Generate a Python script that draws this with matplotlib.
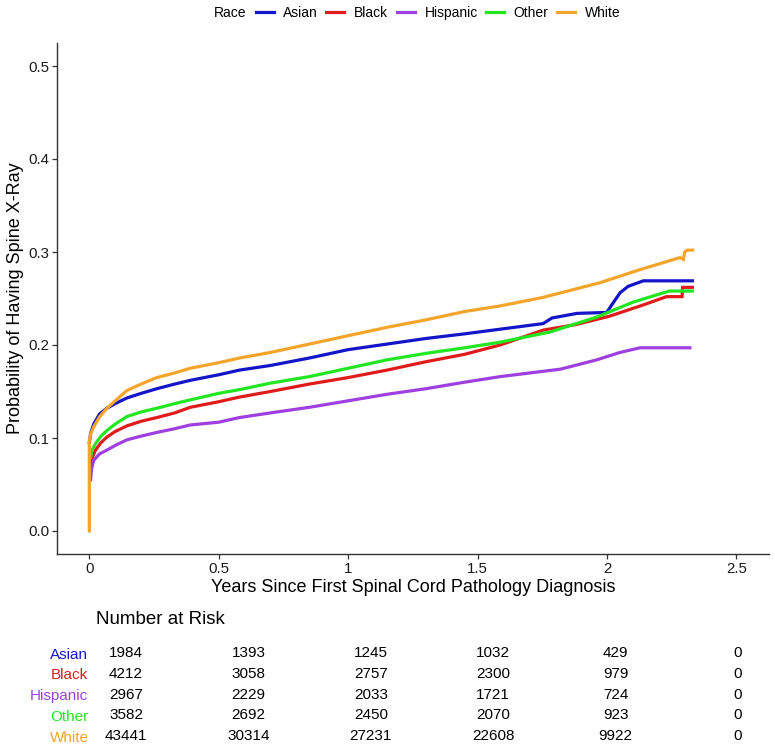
import matplotlib
matplotlib.use("Agg")
import matplotlib.pyplot as plt
from matplotlib.lines import Line2D

plt.rcParams.update({
    "font.family": ["Liberation Sans", "DejaVu Sans"],
    "axes.linewidth": 1.0,
    "xtick.direction": "out",
    "ytick.direction": "out",
    "xtick.major.size": 3.5,
    "ytick.major.size": 3.5,
    "xtick.major.width": 0.9,
    "ytick.major.width": 0.9,
    "xtick.labelsize": 10.8,
    "ytick.labelsize": 10.8,
})

groups = ["Asian", "Black", "Hispanic", "Other", "White"]
colors = ["#1414C8", "#E01B1B", "#A03FE0", "#22E622", "#F2A52A"]

# cumulative incidence (time in years, probability)
asian_t = [0, 0.005, 0.017, 0.04, 0.068, 0.1, 0.145, 0.2, 0.261, 0.33, 0.39, 0.5, 0.58, 0.7,
           0.85, 1.0, 1.15, 1.3, 1.45, 1.587, 1.753, 1.787, 1.884, 1.999, 2.018, 2.05, 2.081,
           2.14, 2.33]
asian_p = [0.095, 0.105, 0.115, 0.126, 0.132, 0.137, 0.143, 0.148, 0.153, 0.158, 0.162, 0.168,
           0.173, 0.178, 0.186, 0.195, 0.201, 0.207, 0.212, 0.217, 0.223, 0.229, 0.234, 0.235,
           0.243, 0.256, 0.263, 0.269, 0.269]

black_t = [0.005, 0.01, 0.024, 0.045, 0.068, 0.1, 0.145, 0.2, 0.261, 0.33, 0.39, 0.5, 0.58, 0.7,
           0.85, 1.0, 1.15, 1.3, 1.45, 1.587, 1.753, 1.88, 2.01, 2.139, 2.23, 2.29, 2.292, 2.33]
black_p = [0.065, 0.078, 0.087, 0.095, 0.101, 0.107, 0.113, 0.118, 0.122, 0.127, 0.133, 0.139,
           0.144, 0.150, 0.158, 0.165, 0.173, 0.182, 0.190, 0.200, 0.216, 0.222, 0.231, 0.243,
           0.252, 0.252, 0.262, 0.262]

hispanic_t = [0.005, 0.008, 0.017, 0.04, 0.068, 0.1, 0.145, 0.2, 0.261, 0.33, 0.39, 0.5, 0.58,
              0.7, 0.85, 1.0, 1.15, 1.3, 1.45, 1.587, 1.82, 1.96, 2.05, 2.127, 2.32]
hispanic_p = [0.055, 0.066, 0.076, 0.083, 0.087, 0.092, 0.098, 0.102, 0.106, 0.110, 0.114, 0.117,
              0.122, 0.127, 0.133, 0.140, 0.147, 0.153, 0.160, 0.166, 0.174, 0.184, 0.192, 0.197,
              0.197]

other_t = [0.005, 0.01, 0.024, 0.045, 0.068, 0.1, 0.145, 0.2, 0.261, 0.33, 0.39, 0.5, 0.58, 0.7,
           0.85, 1.0, 1.15, 1.3, 1.45, 1.587, 1.78, 1.96, 2.10, 2.24, 2.33]
other_p = [0.079, 0.087, 0.094, 0.102, 0.108, 0.115, 0.123, 0.128, 0.132, 0.137, 0.141, 0.148,
           0.152, 0.159, 0.166, 0.175, 0.184, 0.191, 0.197, 0.203, 0.214, 0.230, 0.246, 0.258,
           0.258]

white_t = [0, 0, 0.005, 0.017, 0.04, 0.068, 0.1, 0.145, 0.2, 0.261, 0.33, 0.39, 0.5, 0.58, 0.7,
           0.85, 1.0, 1.15, 1.3, 1.45, 1.587, 1.75, 1.973, 2.127, 2.282, 2.295, 2.30, 2.31, 2.33]
white_p = [0, 0.098, 0.104, 0.112, 0.123, 0.132, 0.140, 0.151, 0.158, 0.165, 0.170, 0.175, 0.181,
           0.186, 0.192, 0.201, 0.210, 0.219, 0.227, 0.236, 0.242, 0.251, 0.267, 0.281, 0.294,
           0.292, 0.300, 0.302, 0.302]

series_t = [asian_t, black_t, hispanic_t, other_t, white_t]
series_p = [asian_p, black_p, hispanic_p, other_p, white_p]

# number at risk table
risk_times = [0, 0.5, 1.0, 1.5, 2.0, 2.5]
risk_asian = [1984, 1393, 1245, 1032, 429, 0]
risk_black = [4212, 3058, 2757, 2300, 979, 0]
risk_hispanic = [2967, 2229, 2033, 1721, 724, 0]
risk_other = [3582, 2692, 2450, 2070, 923, 0]
risk_white = [43441, 30314, 27231, 22608, 9922, 0]
risk_rows = [risk_asian, risk_black, risk_hispanic, risk_other, risk_white]

xticks = [0, 0.5, 1, 1.5, 2, 2.5]
xtick_labels = ["0", "0.5", "1", "1.5", "2", "2.5"]
yticks = [0.0, 0.1, 0.2, 0.3, 0.4, 0.5]

fig = plt.figure(figsize=(7.75, 7.5), dpi=100)

# main curves
ax = fig.add_axes([0.0735, 0.261, 0.9185, 0.682])
for t, p, c in zip(series_t, series_p, colors):
    ax.plot(t, p, color=c, linewidth=2.3, solid_joinstyle="miter")
ax.set_xlim(-0.125, 2.625)
ax.set_ylim(-0.025, 0.525)
ax.set_xticks(xticks, xtick_labels)
ax.set_yticks(yticks, [f"{v:.1f}" for v in yticks])
ax.tick_params(colors="#333333", labelcolor="#1a1a1a", pad=2)
for side in ["top", "right"]:
    ax.spines[side].set_visible(False)
for side in ["left", "bottom"]:
    ax.spines[side].set_color("#333333")
ax.set_xlabel("Years Since First Spinal Cord Pathology Diagnosis", fontsize=13, labelpad=2)
ax.set_ylabel("Probability of Having Spine X-Ray", fontsize=13, labelpad=3)

# legend across the top
handles = [Line2D([], [], color=c, linewidth=2.3) for c in colors]
fig.legend(handles, groups, loc="center", bbox_to_anchor=(438 / 775, 1 - 13 / 750), ncol=5,
           frameon=False, fontsize=10, handlelength=1.3, handletextpad=0.7, columnspacing=0.6,
           borderpad=0, borderaxespad=0)
fig.text(246 / 775, 1 - 13 / 750, "Race", ha="right", va="center", fontsize=10)

# number at risk
fig.text(96 / 775, 1 - 620 / 750, "Number at Risk", ha="left", va="center", fontsize=13.5)
tab = fig.add_axes([0.1231, 0.0048, 0.8686, 0.1383])
tab.set_xlim(-0.125, 2.625)
tab.set_ylim(4.5, -0.5)
for i, row in enumerate(risk_rows):
    for t, n in zip(risk_times, row):
        tab.text(t, i, str(n), ha="center", va="center", fontsize=11)
tab.set_yticks(range(len(groups)), groups)
for lab, c in zip(tab.get_yticklabels(), colors):
    lab.set_color(c)
    lab.set_fontsize(11)
tab.tick_params(axis="y", length=0, pad=5)
tab.set_xticks([])
for s in tab.spines.values():
    s.set_visible(False)
tab.patch.set_visible(False)

fig.savefig("out.png", dpi=100)
